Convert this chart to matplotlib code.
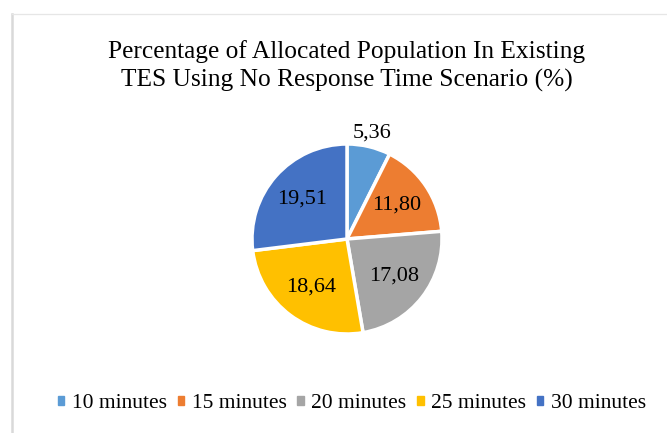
import numpy as np
import matplotlib.pyplot as plt
from matplotlib.lines import Line2D
from matplotlib.patches import Rectangle

plt.rcParams['font.family'] = ['Liberation Serif', 'DejaVu Serif']

categories = ["10 minutes", "15 minutes", "20 minutes", "25 minutes", "30 minutes"]
values = [5.36, 11.80, 17.08, 18.64, 19.51]
colors = ["#5B9BD5", "#ED7D31", "#A5A5A5", "#FFC000", "#4472C4"]

fig = plt.figure(figsize=(6.67, 4.33), dpi=100)

# chart frame (right and bottom edges cut off in the original)
fig.add_artist(Line2D([12 / 667, 12 / 667], [0, 1 - 14 / 433], transform=fig.transFigure,
                      color="#D9D9D9", linewidth=1.8))
fig.add_artist(Line2D([12 / 667, 1], [1 - 14 / 433, 1 - 14 / 433], transform=fig.transFigure,
                      color="#E6E6E6", linewidth=0.9))

fig.text(347 / 667, 1 - 66 / 433,
         "Percentage of Allocated Population In Existing\nTES Using No Response Time Scenario (%)",
         ha="center", va="center", fontsize=18.3, linespacing=1.38)

# pie area: centre (347, 239), radius ~95 px
r = 95
ax = fig.add_axes([(347 - r) / 667, 1 - (239 + r) / 433, 2 * r / 667, 2 * r / 433])
wedges, _ = ax.pie(values, colors=colors, startangle=90, counterclock=False,
                   wedgeprops=dict(edgecolor="white", linewidth=2.5))
ax.set_xlim(-1, 1)
ax.set_ylim(-1, 1)

for i, w in enumerate(wedges):
    ang = np.deg2rad((w.theta1 + w.theta2) / 2)
    dist = 1.15 if i == 0 else 0.63
    txt = f"{values[i]:.2f}".replace(".", ",")
    ax.text(dist * np.cos(ang), dist * np.sin(ang), txt, ha="center", va="center",
            fontsize=16, clip_on=False)

handles = [Rectangle((0, 0), 1, 1, color=c) for c in colors]
fig.legend(handles, categories, loc="center", bbox_to_anchor=(352 / 667, 1 - 404 / 433),
           ncol=5, frameon=False, fontsize=15.5, handlelength=0.3, handleheight=0.3,
           handletextpad=0.35, columnspacing=0.5)

fig.savefig("out.png", dpi=100)
